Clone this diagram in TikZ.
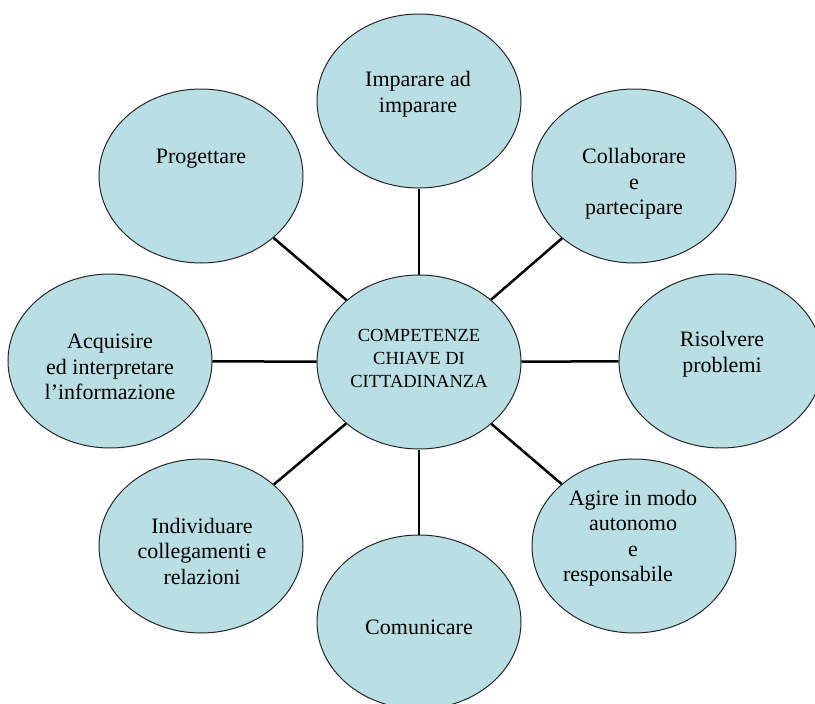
\documentclass[tikz,border=0pt]{standalone}
\usepackage{fontspec}
\setmainfont{Liberation Serif}
\usetikzlibrary{shapes.geometric}
\definecolor{bubble}{RGB}{185,223,228}
\begin{document}
\begin{tikzpicture}[x=1pt,y=-1pt,
  bub/.style={ellipse,draw=black!85,line width=1pt,fill=bubble,
    minimum width=204pt,minimum height=174pt,inner sep=0pt},
  lab/.style={align=center,font=\fontsize{22}{25.5}\selectfont,inner sep=0pt},
  clab/.style={align=center,font=\fontsize{18.5}{23}\selectfont,inner sep=0pt},
  link/.style={line width=2.5pt,black}]
\useasboundingbox (0,0) rectangle (815,704);
\begin{scope}
\clip (0,0) rectangle (815,704);
\node[bub] (top) at (419,101) {};
\node[bub] (prog) at (201,176) {};
\node[bub] (coll) at (634,176) {};
\node[bub] (acq) at (110,361) {};
\node[bub] (cen) at (419,362) {};
\node[bub] (ris) at (721,361) {};
\node[bub] (ind) at (201,546) {};
\node[bub] (agi) at (634,546) {};
\node[bub] (com) at (419,622) {};
\end{scope}
\draw[link] (cen) -- (top);
\draw[link] (cen) -- (prog);
\draw[link] (cen) -- (coll);
\draw[link] (cen) -- (acq);
\draw[link] (cen) -- (ris);
\draw[link] (cen) -- (ind);
\draw[link] (cen) -- (agi);
\draw[link] (cen) -- (com);
\node[lab] (ttop) at (418,94) {Imparare ad\\imparare};
\node[lab] (tprog) at (201,159) {Progettare};
\node[lab] (tcoll) at (634,184) {Collaborare\\e\\partecipare};
\node[lab] (tacq) at (110,367) {Acquisire\\ed interpretare\\l’informazione};
\node[clab] (tcen) at (419,358) {COMPETENZE\\CHIAVE DI\\CITTADINANZA};
\node[lab] (tris) at (722,354) {Risolvere\\problemi};
\node[lab] (tind) at (202,551) {Individuare\\collegamenti e\\relazioni};
\node[lab] (tagi) at (633,538) {Agire in modo\\autonomo\\e\\responsabile\hspace*{30pt}};
\node[lab] (tcom) at (419,627) {Comunicare};
\end{tikzpicture}
\end{document}
